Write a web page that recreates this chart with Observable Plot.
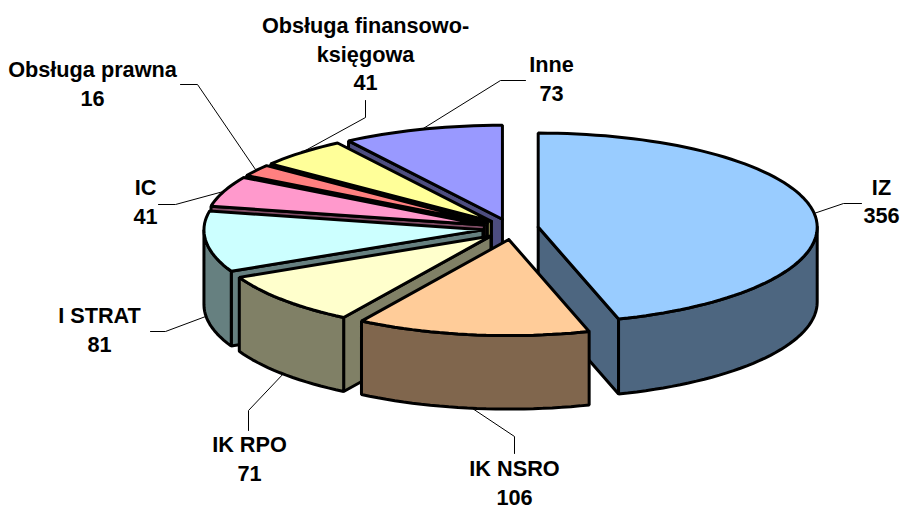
<!DOCTYPE html>
<html><head><meta charset="utf-8">
<style>html,body{margin:0;padding:0;background:#fff}svg{display:block}</style>
<script src="https://cdn.jsdelivr.net/npm/d3@7"></script>
<script src="https://cdn.jsdelivr.net/npm/@observablehq/plot@0.6"></script>
</head><body><div id="chart"></div>
<script>
const categories = ["IZ","IK NSRO","IK RPO","I STRAT","IC","Obsługa prawna","Obsługa finansowo-\nksięgowa","Inne"];
const values = [356,106,71,81,41,16,41,73];
const topColors = ["#99CCFF","#FFCC99","#FFFFCC","#CCFFFF","#FF99CC","#FF8080","#FFFF99","#9999FF"];
const wallColors = ["#4D6680","#80664D","#808066","#668080","#804D66","#804040","#808050","#4D4D80"];
// label centres and leader elbows, in the pixel space of the figure
const labelX = [881,514,249,99,145,92,365,551];
const labelY = [199.5,481,457,328,200,82,52,77];
const elbows = [[[843,203],[861,203]],[[514,436],[514,453]],[[248,410],[248,430]],[[165,331],[150,331]],[[175,204],[158,204]],[[197,84],[180,84]],[[365,117],[365,100]],[[500,80],[525,80]]];

const cx = 510, cy = 228, rx = 279, ryFront = 96, ryBack = 94, explode = 28, depth = 75;
const rad = Math.PI / 180;
const total = d3.sum(values);
let acc = 0;
const slices = values.map((v, i) => {
  const a0 = acc / total * 360; acc += v; const a1 = acc / total * 360;
  const mid = (a0 + a1) / 2;
  const c = Math.cos(mid * rad), lean = Math.max(0, -c);
  return {i, a0, a1, mid,
    tx: cx + explode * Math.sin(mid * rad) + 2 * lean,
    ty: cy - explode * (ryFront / rx) * c + 1.5 * lean,
    d: depth - 1.5 * lean};
});
const rim = (s, a) => {
  const c = Math.cos(a * rad);
  return [s.tx + rx * Math.sin(a * rad), s.ty - (c > 0 ? ryBack : ryFront) * c];
};
const arc = (s, a, b) => {
  const n = Math.max(2, Math.ceil((b - a) / 2));
  return d3.range(n + 1).map(k => rim(s, a + (b - a) * k / n));
};
const polys = [];
let id = 0;
const add = (pts, fill) => { id++; [...pts, pts[0]].forEach(p => polys.push({x:p[0], y:p[1], z:id, fill})); };
[...slices].sort((p, q) => -Math.cos(p.mid*rad) - -Math.cos(q.mid*rad)).forEach(s => {
  const down = p => [p[0], p[1] + s.d];
  const t = [s.tx, s.ty], wall = wallColors[s.i];
  if (Math.sin(s.a0 * rad) < -1e-6) { const r = rim(s, s.a0); add([t, r, down(r), down(t)], wall); }
  if (Math.sin(s.a1 * rad) > 1e-6) { const r = rim(s, s.a1); add([t, r, down(r), down(t)], wall); }
  const f0 = Math.max(s.a0, 90), f1 = Math.min(s.a1, 270);
  if (f1 > f0) { const a = arc(s, f0, f1); add([...a, ...a.map(down).reverse()], wall); }
  add([t, ...arc(s, s.a0, s.a1)], topColors[s.i]);
});
const leaders = [];
slices.forEach(s => {
  let p = rim(s, s.mid);
  if (Math.cos(s.mid * rad) < 0) p = [p[0], p[1] + s.d];
  [p, ...elbows[s.i]].forEach(q => leaders.push({x:q[0], y:q[1], z:s.i}));
});
const labels = categories.map((c, i) => ({text: c + "\n" + values[i], x: labelX[i], y: labelY[i]}));

document.getElementById("chart").append(Plot.plot({
  width: 902, height: 507, margin: 0,
  style: {background: "#fff", overflow: "visible"},
  x: {domain: [0, 902], range: [0, 902], axis: null},
  y: {domain: [0, 507], range: [0, 507], axis: null},
  marks: [
    Plot.line(leaders, {x: "x", y: "y", z: "z", stroke: "#000", strokeWidth: 1, curve: "linear"}),
    Plot.line(polys, {x: "x", y: "y", z: "z", fill: {value: "fill", scale: null}, stroke: "#000", strokeWidth: 3, strokeLinejoin: "miter", curve: "linear"}),
    Plot.text(labels, {x: "x", y: "y", text: "text", lineHeight: 1.3, fontSize: 21.7, fontWeight: "bold", fontFamily: "Liberation Sans", fill: "#000"})
  ]
}));
</script></body></html>
